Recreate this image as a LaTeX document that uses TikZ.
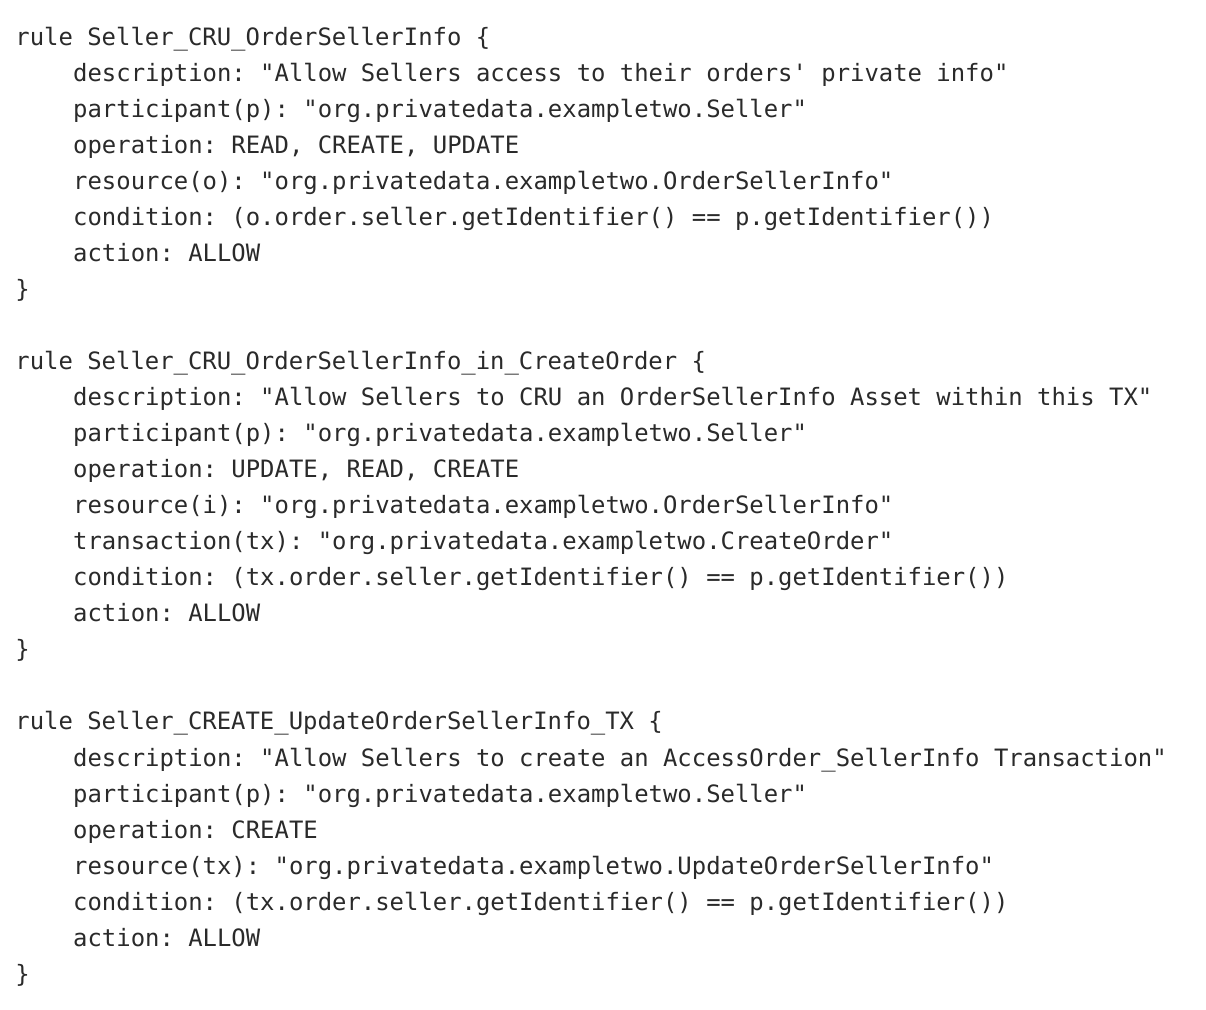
\documentclass[tikz,border=0pt]{standalone}
\usepackage{fontspec}
\usepackage{tikz}
\usepackage{color}
\setmonofont{DejaVu Sans Mono}
\definecolor{codegray}{HTML}{2A2A2A}
\tikzset{codeline/.style={anchor=base west, inner sep=0pt, text=codegray,
    font=\ttfamily\fontsize{11.95}{14}\selectfont}}

\begin{document}
\begin{tikzpicture}[x=0.5pt, y=-0.5pt]
	\fill[white] (0,0) rectangle (1206,1010);
	\useasboundingbox (0,0) rectangle (1206,1010);
	% first rule
	\node[codeline] (ruleA)      at (15,46)    {rule Seller\_CRU\_OrderSellerInfo \{};
	\node[codeline] (ruleAdesc)  at (72.8,82)  {description: "Allow Sellers access to their orders' private info"};
	\node[codeline] (ruleApart)  at (72.8,118) {participant(p): "org.privatedata.exampletwo.Seller"};
	\node[codeline] (ruleAop)    at (72.8,154) {operation: READ, CREATE, UPDATE};
	\node[codeline] (ruleAres)   at (72.8,190) {resource(o): "org.privatedata.exampletwo.OrderSellerInfo"};
	\node[codeline] (ruleAcond)  at (72.8,226) {condition: (o.order.seller.getIdentifier() == p.getIdentifier())};
	\node[codeline] (ruleAact)   at (72.8,262) {action: ALLOW};
	\node[codeline] (ruleAend)   at (15,298)   {\}};
	% second rule
	\node[codeline] (ruleB)      at (15,370)   {rule Seller\_CRU\_OrderSellerInfo\_in\_CreateOrder \{};
	\node[codeline] (ruleBdesc)  at (72.8,406) {description: "Allow Sellers to CRU an OrderSellerInfo Asset within this TX"};
	\node[codeline] (ruleBpart)  at (72.8,442) {participant(p): "org.privatedata.exampletwo.Seller"};
	\node[codeline] (ruleBop)    at (72.8,478) {operation: UPDATE, READ, CREATE};
	\node[codeline] (ruleBres)   at (72.8,514) {resource(i): "org.privatedata.exampletwo.OrderSellerInfo"};
	\node[codeline] (ruleBtx)    at (72.8,550) {transaction(tx): "org.privatedata.exampletwo.CreateOrder"};
	\node[codeline] (ruleBcond)  at (72.8,586) {condition: (tx.order.seller.getIdentifier() == p.getIdentifier())};
	\node[codeline] (ruleBact)   at (72.8,622) {action: ALLOW};
	\node[codeline] (ruleBend)   at (15,658)   {\}};
	% third rule
	\node[codeline] (ruleC)      at (15,730)   {rule Seller\_CREATE\_UpdateOrderSellerInfo\_TX \{};
	\node[codeline] (ruleCdesc)  at (72.8,766) {description: "Allow Sellers to create an AccessOrder\_SellerInfo Transaction"};
	\node[codeline] (ruleCpart)  at (72.8,802) {participant(p): "org.privatedata.exampletwo.Seller"};
	\node[codeline] (ruleCop)    at (72.8,838) {operation: CREATE};
	\node[codeline] (ruleCres)   at (72.8,874) {resource(tx): "org.privatedata.exampletwo.UpdateOrderSellerInfo"};
	\node[codeline] (ruleCcond)  at (72.8,910) {condition: (tx.order.seller.getIdentifier() == p.getIdentifier())};
	\node[codeline] (ruleCact)   at (72.8,946) {action: ALLOW};
	\node[codeline] (ruleCend)   at (15,982)   {\}};
\end{tikzpicture}
\end{document}
